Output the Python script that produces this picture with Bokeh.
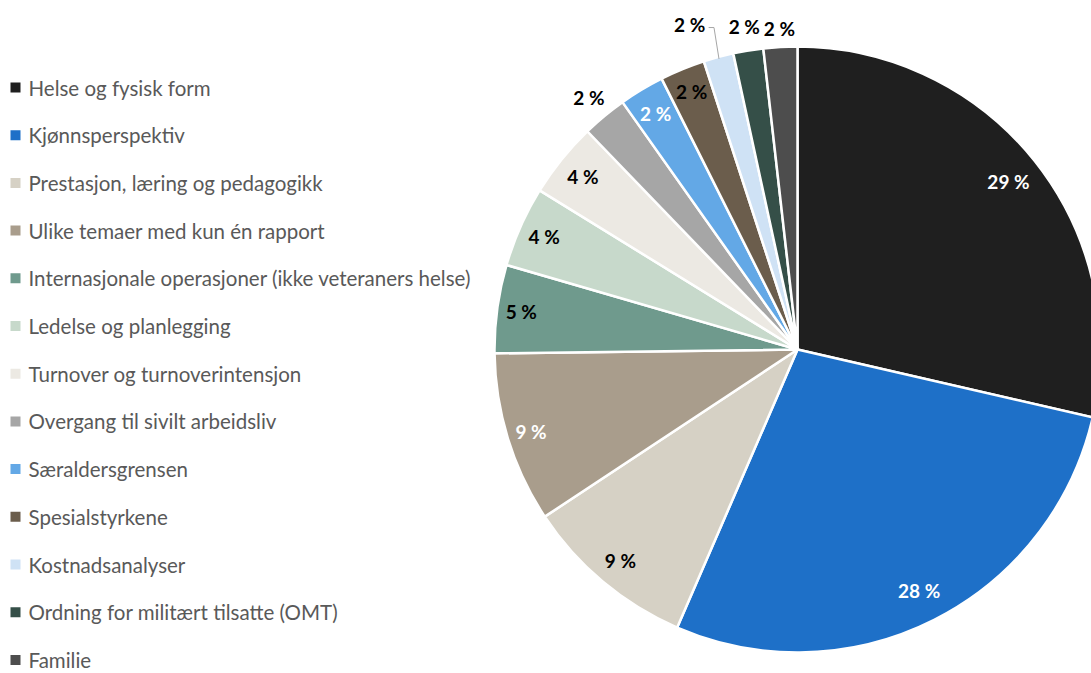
import math
from bokeh.plotting import figure
from bokeh.models import Range1d, ColumnDataSource
from bokeh.core.properties import value
from bokeh.embed import file_html
from bokeh.resources import INLINE

categories = [
    "Helse og fysisk form",
    "Kjønnsperspektiv",
    "Prestasjon, læring og pedagogikk",
    "Ulike temaer med kun én rapport",
    "Internasjonale operasjoner (ikke veteraners helse)",
    "Ledelse og planlegging",
    "Turnover og turnoverintensjon",
    "Overgang til sivilt arbeidsliv",
    "Særaldersgrensen",
    "Spesialstyrkene",
    "Kostnadsanalyser",
    "Ordning for militært tilsatte (OMT)",
    "Familie",
]
shares = [28.6, 27.9, 9.2, 9.1, 4.7, 4.3, 4.0, 2.4, 2.4, 2.4, 1.6, 1.6, 1.8]
labels = ["29 %", "28 %", "9 %", "9 %", "5 %", "4 %", "4 %",
          "2 %", "2 %", "2 %", "2 %", "2 %", "2 %"]

colors = ["#1f1f1f", "#1e70c8", "#d6d1c5", "#a99d8c", "#6f9a8d", "#c7d9cb",
          "#ece9e3", "#a6a6a6", "#63a8e6", "#6b5d4c", "#cfe2f5", "#354f48", "#4d4d4d"]
label_colors = ["white", "white", "black", "white", "black", "black", "black",
                "black", "white", "black", "black", "black", "black"]
# label placement style: radial factor and angular offset (fraction of circle)
label_rf = [0.89, 0.89, 0.91, 0.92, 0.92, 0.915, 0.91, 1.08, 0.91, 0.92, 1.13, 1.08, 1.06]
label_da = [0, 0, 0, 0, 0, 0, 0, 0, 0, 0, -0.009, 0, 0]

W, H = 1091, 673
def sx(x):
    return x
def sy(y):
    return H - y

p = figure(width=W, height=H, x_range=Range1d(0, W), y_range=Range1d(0, H),
           output_backend="svg", toolbar_location=None, min_border=0)
p.axis.visible = False
p.grid.visible = False
p.outline_line_color = None
p.background_fill_color = "white"
p.border_fill_color = "white"

cx, cy, R = sx(797), sy(349), 303
total = sum(shares)
starts, ends, mids = [], [], []
cum = 0.0
for s in shares:
    f0 = cum / total
    cum += s
    f1 = cum / total
    starts.append(math.pi / 2 - 2 * math.pi * f0)
    ends.append(math.pi / 2 - 2 * math.pi * f1)
    mids.append((f0 + f1) / 2)

src = ColumnDataSource(dict(start=starts, end=ends, color=colors, cat=categories))
p.wedge(x=cx, y=cy, radius=R, start_angle="start", end_angle="end", direction="clock",
        fill_color="color", line_color="white", line_width=2.5, source=src)

lx, ly = [], []
for i, m in enumerate(mids):
    a = math.pi / 2 - 2 * math.pi * (m + label_da[i])
    r = R * label_rf[i]
    lx.append(cx + r * math.cos(a))
    ly.append(cy + r * math.sin(a))

# leader line for Kostnadsanalyser
k = categories.index("Kostnadsanalyser")
ak = math.pi / 2 - 2 * math.pi * mids[k]
x0, y0 = cx + (R - 2) * math.cos(ak), cy + (R - 2) * math.sin(ak)
p.line(x=[x0, x0 - 5, lx[k] + 19], y=[y0, ly[k] - 3, ly[k] - 3],
       line_color="#a6a6a6", line_width=1)

lsrc = ColumnDataSource(dict(x=lx, y=ly, t=labels, c=label_colors))
p.text(x="x", y="y", text="t", text_color="c", source=lsrc,
       text_align="center", text_baseline="middle",
       text_font=value("Lato"), text_font_style="bold", text_font_size="19px")

# legend
leg_y = [sy(87 + 47.7 * i) for i in range(len(categories))]
p.rect(x=[sx(15)] * len(categories), y=leg_y, width=10, height=10,
       fill_color=colors, line_color=None)
p.text(x=[sx(28)] * len(categories), y=leg_y, text=categories,
       text_align="left", text_baseline="middle", text_color="#595959",
       text_font=value("Lato"), text_font_size="20.5px")

open("out.html", "w").write(file_html(p, INLINE))
